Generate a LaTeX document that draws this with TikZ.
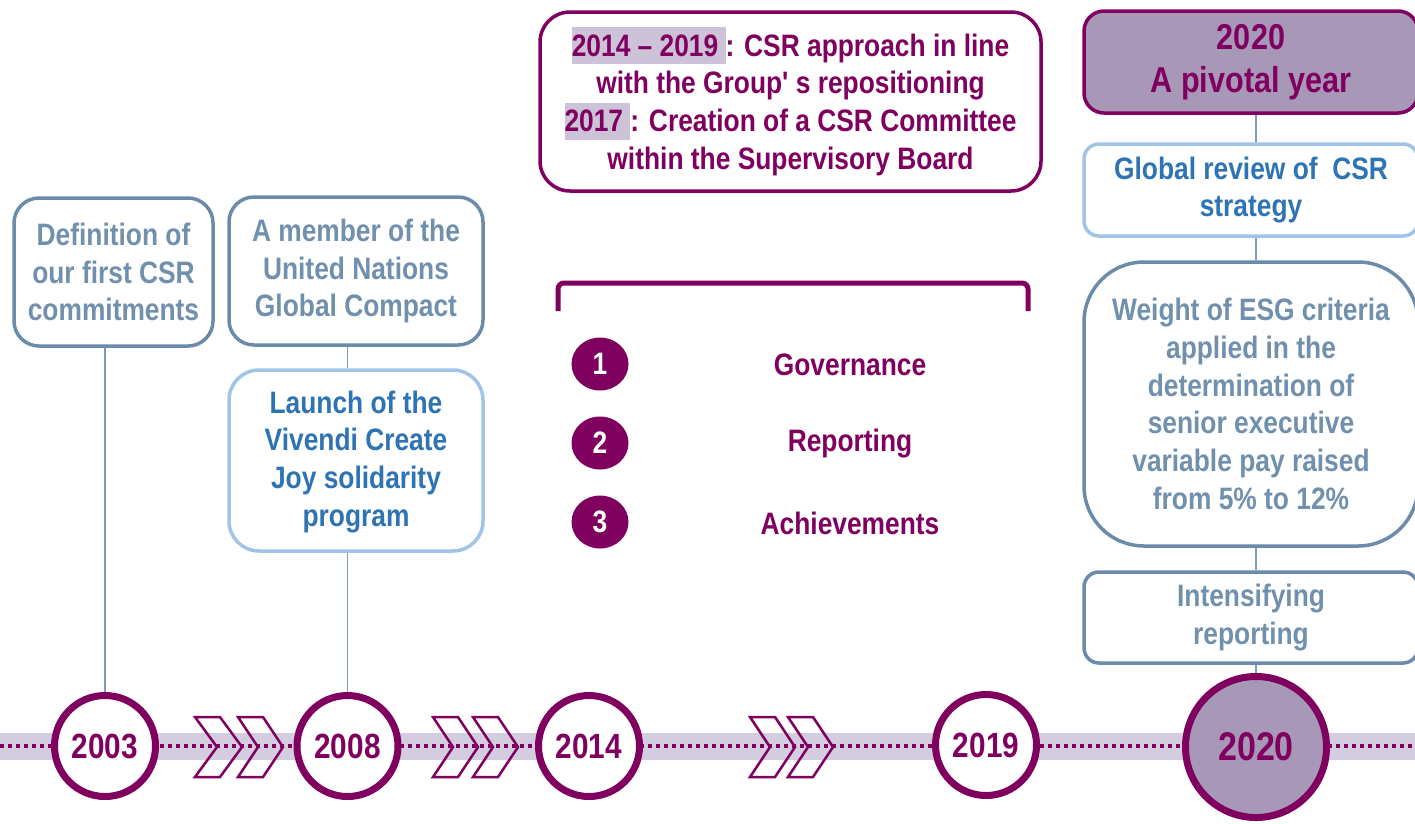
\documentclass[tikz,border=0pt]{standalone}
\usepackage{fontspec}
\setmainfont{Liberation Sans}[FakeStretch=0.85, Ligatures=TeXOff]
\usetikzlibrary{shapes.geometric}
\definecolor{vpurple}{HTML}{800060}
\definecolor{bandc}{HTML}{D4CCDF}
\definecolor{lavfill}{HTML}{A898B8}
\definecolor{hlc}{HTML}{CCC3D8}
\definecolor{steelc}{HTML}{6A8BA9}
\definecolor{steelt}{HTML}{7090AE}
\definecolor{lbluec}{HTML}{A0C4E8}
\definecolor{bluet}{HTML}{2E74B5}
\definecolor{connc}{HTML}{7F9AB4}
\newcommand\fsmain{\fontsize{31}{37.7}\selectfont\bfseries}
\newcommand\fsbig{\fontsize{36}{43}\selectfont\bfseries}
\newcommand\hlbox[1]{{\setlength{\fboxsep}{0pt}\colorbox{hlc}{\rule[-8pt]{0pt}{37pt}#1}}}
\begin{document}
\begin{tikzpicture}[x=1pt,y=-1pt,
  boxbase/.style={line width=3.5pt, fill=white, align=center, inner sep=0pt, font=\fsmain},
  steelbox/.style={boxbase, draw=steelc, text=steelt},
  bluebox/.style={boxbase, draw=lbluec, text=bluet},
  purplebox/.style={boxbase, draw=vpurple, text=vpurple},
  yearc/.style={circle, draw=vpurple, line width=7pt, fill=white, text=vpurple, minimum size=101pt, inner sep=0pt, font={\fontsize{35}{40}\selectfont\bfseries}},
  numc/.style={ellipse, fill=vpurple, text=white, minimum width=57pt, minimum height=53pt, inner sep=0pt, font=\fsmain},
  ptext/.style={text=vpurple, font=\fsmain, inner sep=0pt},
  conn/.style={draw=connc, line width=1.6pt},
  chev/.style={draw=vpurple, line width=2.5pt, line join=miter}
]
\useasboundingbox (0,0) rectangle (1415,823);
\clip (0,0) rectangle (1415,823);
% timeline band and dotted line
\fill[bandc] (0,733) rectangle (1415,760);
\draw[vpurple, line width=4pt, dash pattern=on 4pt off 4pt] (0,746) -- (1415,746);
% chevrons
\foreach \cx/\w in {195/47, 238/45, 433/45, 473/45, 750/45, 788/45}
  \draw[chev] (\cx,717) -- ++(25,0) -- ++({\w-25},30) -- ++({25-\w},30) -- ++(-25,0) -- ++({\w-25},-30) -- cycle;
% year circles
\node[yearc] (c2003) at (105,746) {2003};
\node[yearc] (c2008) at (347.5,746) {2008};
\node[yearc] (c2014) at (589,746) {2014};
\node[yearc] (c2019) at (986,745) {2019};
\node[yearc, fill=lavfill, minimum size=141pt, font={\fontsize{40}{46}\selectfont\bfseries}] (c2020) at (1256,747) {2020};
% left boxes
\node[steelbox, rounded corners=25pt, minimum width=199pt, minimum height=148pt] (bA) at (113.5,272) {Definition of\\our first CSR\\commitments};
\node[steelbox, rounded corners=25pt, minimum width=254pt, minimum height=148pt] (bB) at (356,271) {A member of the\\United Nations\\Global Compact};
\node[bluebox, rounded corners=30pt, minimum width=254pt, minimum height=181pt, text depth=4pt] (bC) at (356,460.5) {Launch of the\\Vivendi Create\\Joy solidarity\\program};
% top middle box
\node[purplebox, rounded corners=30pt, minimum width=501pt, minimum height=179pt] (bD) at (790.5,101.5)
  {\hlbox{2014 – 2019\ }: CSR approach in line\\with the Group' s repositioning\\\hlbox{2017\ }: Creation of a CSR Committee\\within the Supervisory Board};
% bracket
\draw[vpurple, line width=5pt, rounded corners=6pt] (558,311) -- (558,283) -- (1028,283) -- (1028,311);
% numbered items
\node[numc] (n1) at (600,364) {1};
\node[numc] (n2) at (600,443) {2};
\node[numc] (n3) at (600,522) {3};
\node[ptext] (lGov) at (850,365) {Governance};
\node[ptext] (lRep) at (850,444) {Reporting};
\node[ptext] (lAch) at (850,523) {Achievements};
% right column
\node[purplebox, fill=lavfill, font=\fsbig, rounded corners=20pt, minimum width=334pt, minimum height=102pt] (bE) at (1251,62) {2020\\A pivotal year};
\node[bluebox, rounded corners=15pt, minimum width=334pt, minimum height=92pt] (bF) at (1251,190) {Global review of\ \ CSR\\strategy};
\node[steelbox, rounded corners=60pt, minimum width=334pt, minimum height=284pt] (bG) at (1251,404) {Weight of ESG criteria\\applied in the\\determination of\\senior executive\\variable pay raised\\from 5\% to 12\%};
\node[steelbox, rounded corners=15pt, minimum width=334pt, minimum height=91pt] (bH) at (1251,617.5) {Intensifying\\reporting};
% connectors
\draw[conn] (bA.south -| c2003.north) -- (c2003.north);
\draw[conn] (bB.south -| c2008.north) -- (bC.north -| c2008.north);
\draw[conn] (bC.south -| c2008.north) -- (c2008.north);
\draw[conn] (bE.south -| c2020.north) -- (bF.north -| c2020.north);
\draw[conn] (bF.south -| c2020.north) -- (bG.north -| c2020.north);
\draw[conn] (bG.south -| c2020.north) -- (bH.north -| c2020.north);
\draw[conn] (bH.south -| c2020.north) -- (c2020.north);
\end{tikzpicture}
\end{document}
